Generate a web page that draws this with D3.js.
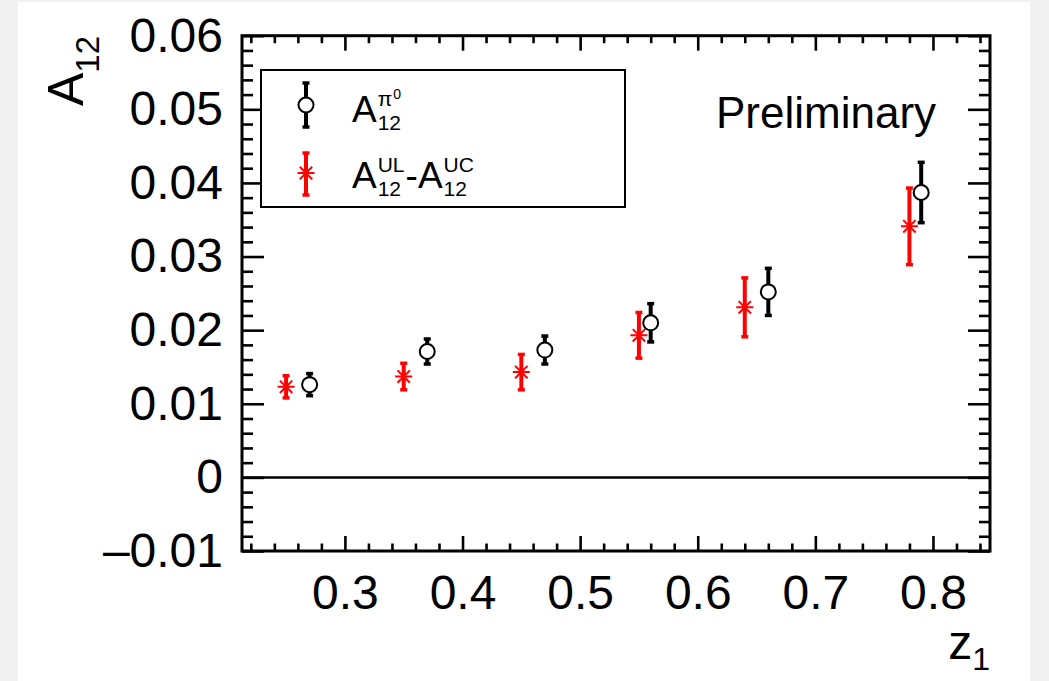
<!DOCTYPE html>
<html><head><meta charset="utf-8">
<script src="https://cdn.jsdelivr.net/npm/d3@7"></script>
<style>
html,body{margin:0;padding:0;background:#f1f1f1;}
svg{display:block;font-family:"Liberation Sans",Arial,Helvetica,sans-serif;}
</style>
</head><body>
<svg id="c" width="1049" height="681"></svg>
<script>
// ---- data ----
const zPi0 = [0.27, 0.37, 0.47, 0.56, 0.66, 0.79];
const aPi0 = [0.0126, 0.0171, 0.0173, 0.0210, 0.0252, 0.0387];
const ePi0 = [0.0015, 0.0017, 0.0019, 0.0026, 0.0032, 0.0041];
const zDiff = [0.25, 0.35, 0.45, 0.55, 0.64, 0.78];
const aDiff = [0.0123, 0.0137, 0.0143, 0.0193, 0.0231, 0.0341];
const eDiff = [0.0015, 0.0018, 0.0024, 0.0031, 0.0040, 0.0052];
const xTickValues = [0.3, 0.4, 0.5, 0.6, 0.7, 0.8];
const xTickLabels = ["0.3", "0.4", "0.5", "0.6", "0.7", "0.8"];
const yTickValues = [-0.01, 0, 0.01, 0.02, 0.03, 0.04, 0.05, 0.06];
const yTickLabels = ["\u20130.01", "0", "0.01", "0.02", "0.03", "0.04", "0.05", "0.06"];
const xDomain = [0.2125, 0.8485];
const yDomain = [-0.01, 0.06];

// ---- layout ----
const svg = d3.select("#c");
svg.append("rect").attr("x", 18).attr("y", 2).attr("width", 1012).attr("height", 679).attr("fill", "#fff");
const L = 242, R = 990, T = 35.7, B = 551;
const x = d3.scaleLinear().domain(xDomain).range([L, R]);
const y = d3.scaleLinear().domain(yDomain).range([B, T]);

const xMinor = d3.range(0.22, 0.8485, 0.02).filter(v => Math.abs(Math.round(v*10) - v*10) > 1e-6);
const yMinor = d3.range(-0.01, 0.0601, 0.002).filter(v => Math.abs(Math.round(v*100) - v*100) > 1e-6);

function styleAxis(g) {
  g.select(".domain").remove();
  g.selectAll(".tick line").attr("stroke", "#000").attr("stroke-width", 2.6);
  g.selectAll("text").attr("fill", "#000").attr("font-size", 48)
   .attr("font-family", '"Liberation Sans",Arial,Helvetica,sans-serif');
}
const fmtX = v => xTickLabels[xTickValues.findIndex(t => Math.abs(t - v) < 1e-9)];
const fmtY = v => yTickLabels[yTickValues.findIndex(t => Math.abs(t - v) < 1e-9)];

// bottom
svg.append("g").attr("transform", `translate(0,${B})`)
  .call(d3.axisBottom(x).tickValues(xTickValues).tickFormat(fmtX).tickSize(-15).tickPadding(24)).call(styleAxis);
svg.append("g").attr("transform", `translate(0,${B})`)
  .call(d3.axisBottom(x).tickValues(xMinor).tickFormat("").tickSize(-7.5)).call(styleAxis);
// top
svg.append("g").attr("transform", `translate(0,${T})`)
  .call(d3.axisTop(x).tickValues(xTickValues).tickFormat("").tickSize(-15)).call(styleAxis);
svg.append("g").attr("transform", `translate(0,${T})`)
  .call(d3.axisTop(x).tickValues(xMinor).tickFormat("").tickSize(-7.5)).call(styleAxis);
// left
svg.append("g").attr("transform", `translate(${L},0)`)
  .call(d3.axisLeft(y).tickValues(yTickValues).tickFormat(fmtY).tickSize(-22).tickPadding(19)).call(styleAxis);
svg.append("g").attr("transform", `translate(${L},0)`)
  .call(d3.axisLeft(y).tickValues(yMinor).tickFormat("").tickSize(-11)).call(styleAxis);
// right
svg.append("g").attr("transform", `translate(${R},0)`)
  .call(d3.axisRight(y).tickValues(yTickValues).tickFormat("").tickSize(-22)).call(styleAxis);
svg.append("g").attr("transform", `translate(${R},0)`)
  .call(d3.axisRight(y).tickValues(yMinor).tickFormat("").tickSize(-11)).call(styleAxis);

// frame
svg.append("rect").attr("x", L).attr("y", T).attr("width", R - L).attr("height", B - T)
  .attr("fill", "none").attr("stroke", "#000").attr("stroke-width", 3);
// zero line
svg.append("line").attr("x1", L).attr("x2", R).attr("y1", y(0)).attr("y2", y(0))
  .attr("stroke", "#000").attr("stroke-width", 2.5);

// ---- markers ----
function errBar(g, cx, y1, y2, color) {
  g.append("line").attr("x1", cx).attr("x2", cx).attr("y1", y1).attr("y2", y2)
    .attr("stroke", color).attr("stroke-width", 4);
  [y1, y2].forEach(yy => g.append("line").attr("x1", cx - 3.5).attr("x2", cx + 3.5)
    .attr("y1", yy).attr("y2", yy).attr("stroke", color).attr("stroke-width", 3.5));
}
function star(g, cx, cy, color) {
  const s = 8.5, d = 6.2;
  g.append("path").attr("d",
    `M${cx - s},${cy}H${cx + s}M${cx},${cy - s}V${cy + s}M${cx - d},${cy - d}L${cx + d},${cy + d}M${cx - d},${cy + d}L${cx + d},${cy - d}`)
    .attr("stroke", color).attr("stroke-width", 2).attr("fill", "none");
}
function circle(g, cx, cy) {
  g.append("circle").attr("cx", cx).attr("cy", cy).attr("r", 7.5)
    .attr("fill", "#fff").attr("stroke", "#000").attr("stroke-width", 2);
}

const gRed = svg.append("g");
zDiff.forEach((z, i) => {
  errBar(gRed, x(z), y(aDiff[i] + eDiff[i]), y(aDiff[i] - eDiff[i]), "#ff0000");
  star(gRed, x(z), y(aDiff[i]), "#ff0000");
});
const gBlk = svg.append("g");
zPi0.forEach((z, i) => {
  errBar(gBlk, x(z), y(aPi0[i] + ePi0[i]), y(aPi0[i] - ePi0[i]), "#000");
  circle(gBlk, x(z), y(aPi0[i]));
});

// ---- texts ----
// y title
const yt = svg.append("text").attr("transform", `translate(83,36) rotate(-90)`)
  .attr("text-anchor", "end").attr("font-size", 50).attr("fill", "#000");
yt.append("tspan").text("A");
yt.append("tspan").attr("font-size", 33).attr("dy", 16).text("12");
// x title
const xt = svg.append("text").attr("x", 990).attr("y", 659)
  .attr("text-anchor", "end").attr("font-size", 48).attr("fill", "#000");
xt.append("tspan").text("z");
xt.append("tspan").attr("font-size", 32).attr("dy", 11).text("1");

svg.append("text").attr("x", 716).attr("y", 128).attr("font-size", 44).attr("fill", "#000").text("Preliminary");

// ---- legend ----
const lg = svg.append("g");
lg.append("rect").attr("x", 261).attr("y", 70).attr("width", 364).attr("height", 137)
  .attr("fill", "#fff").attr("stroke", "#000").attr("stroke-width", 2);
errBar(lg, 306, 83, 127, "#000");
circle(lg, 306, 105);
errBar(lg, 306, 153, 195, "#ff0000");
star(lg, 306, 173, "#ff0000");

function txt(g, tx, ty, s, size) {
  const t = g.append("text").attr("x", tx).attr("y", ty).attr("font-size", size).attr("fill", "#000").text(s);
  return t.node().getComputedTextLength();
}
function supsub(g, tx, ty, base, sup, sub, supsup) {
  const w = txt(g, tx, ty, base, 37);
  let wsup = txt(g, tx + w + 1, ty - 16, sup, 21);
  if (supsup) wsup += txt(g, tx + w + 1 + wsup + 1, ty - 23, supsup, 14) + 1;
  const wsub = txt(g, tx + w + 1, ty + 8, sub, 21);
  return tx + w + 1 + Math.max(wsup, wsub);
}
supsub(lg, 352, 121.5, "A", "\u03c0", "12", "0");
let nx = supsub(lg, 352, 188, "A", "UL", "12");
nx += txt(lg, nx + 1, 188, "-", 37) + 1;
supsub(lg, nx, 188, "A", "UC", "12");
</script>
</body></html>
